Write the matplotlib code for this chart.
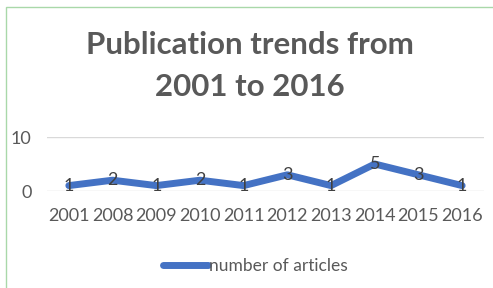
import matplotlib.pyplot as plt
from matplotlib.patches import Rectangle

years = ['2001', '2008', '2009', '2010', '2011', '2012', '2013', '2014', '2015', '2016']
articles = [1, 2, 1, 2, 1, 3, 1, 5, 3, 1]

plt.rcParams['font.family'] = ['Lato', 'DejaVu Sans']
grey = '#595959'
blue = '#4472C4'

fig = plt.figure(figsize=(4.93, 2.88), dpi=100)
ax = fig.add_axes([47 / 493, 1 - 191 / 288, 437 / 493, 54 / 288])

x = range(len(years))
ax.plot(x, articles, color=blue, lw=5, solid_capstyle='round', solid_joinstyle='round',
        label='number of articles', zorder=3)
for xi, v in zip(x, articles):
    ax.text(xi, v, str(v), ha='center', va='center', fontsize=13, color='#404040', zorder=4)

ax.set_xlim(-0.5, len(years) - 0.5)
ax.set_ylim(0, 10)
ax.set_yticks([0, 10])
ax.set_xticks(list(x))
ax.set_xticklabels(years)
ax.tick_params(length=0, colors=grey, labelsize=13)
ax.tick_params(axis='x', pad=12)
ax.tick_params(axis='y', pad=11)
ax.grid(axis='y', color='#d9d9d9', lw=1)
for s in ax.spines.values():
    s.set_visible(False)
ax.set_axisbelow(True)

fig.text(0.507, 1 - 45 / 288, 'Publication trends from', ha='center', va='center',
         fontsize=22.5, fontweight='bold', color=grey)
fig.text(0.507, 1 - 87 / 288, '2001 to 2016', ha='center', va='center',
         fontsize=22.5, fontweight='bold', color=grey)

fig.legend(loc='center', bbox_to_anchor=(0.518, 1 - 266 / 288), frameon=False,
           fontsize=12.5, handlelength=2.6, handletextpad=0.05, labelcolor=grey)

fig.patches.append(Rectangle((6 / 493, -0.1), 1.2, 1 - 7 / 288 + 0.1, transform=fig.transFigure,
                             fill=False, edgecolor='#a9d8a9', lw=1))

fig.savefig('out.png', dpi=100)
